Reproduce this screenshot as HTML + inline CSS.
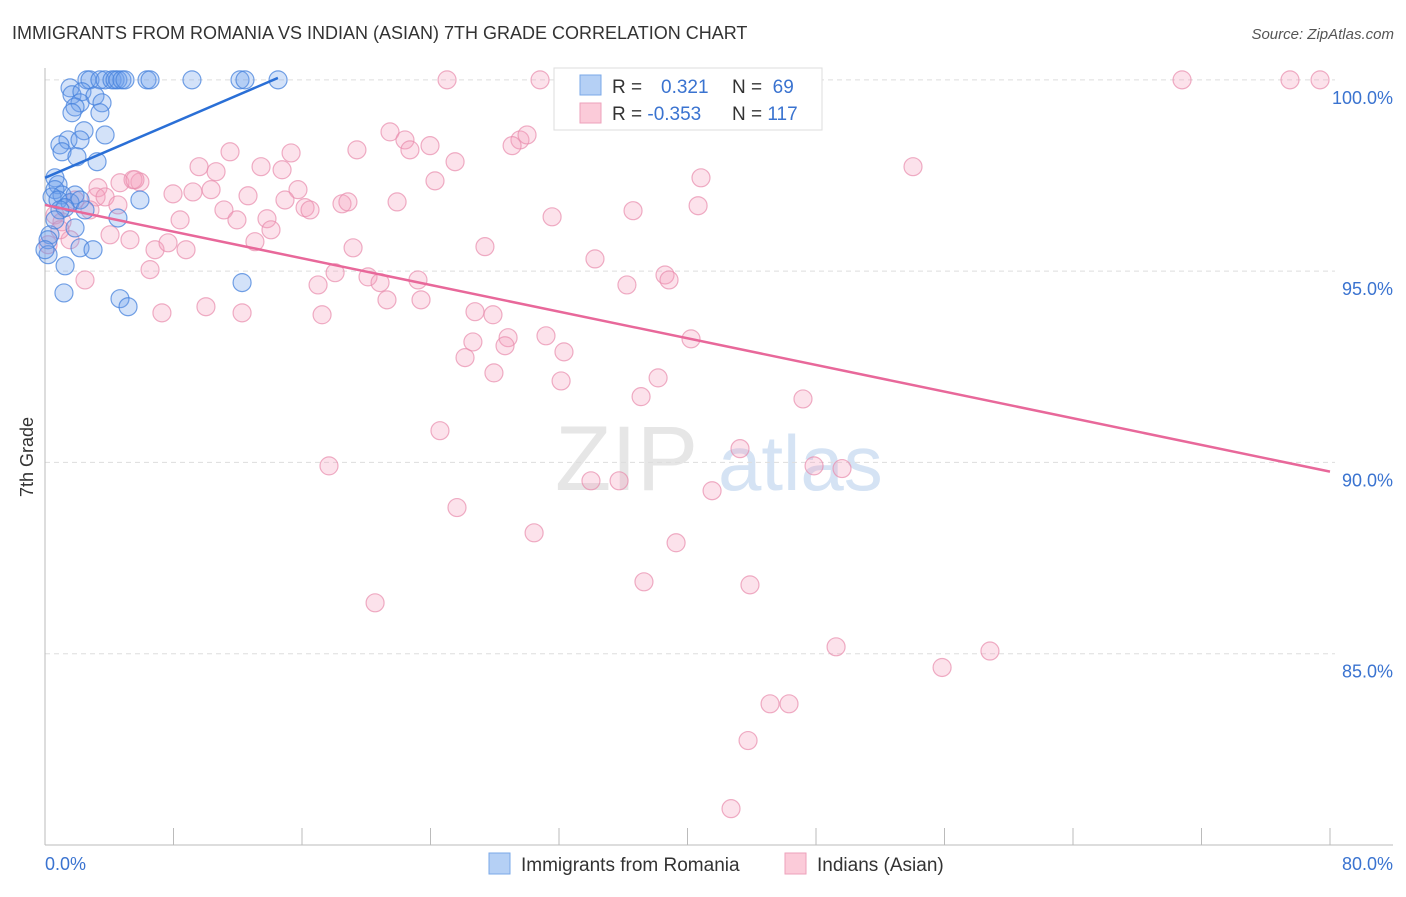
<!DOCTYPE html>
<html><head><meta charset="utf-8"><style>
body{margin:0;background:#fff;font-family:"Liberation Sans",sans-serif;}
svg text{font-family:"Liberation Sans",sans-serif;}
</style></head><body>
<svg id="chart" width="1406" height="892" viewBox="0 0 1406 892">
<text x="12" y="39" font-size="18" fill="#333">IMMIGRANTS FROM ROMANIA VS INDIAN (ASIAN) 7TH GRADE CORRELATION CHART</text>
<text x="1394" y="39" font-size="15" fill="#555" text-anchor="end" font-style="italic">Source: ZipAtlas.com</text>
<g>
<text x="555" y="490" font-size="92" fill="#e6e6e6" font-family="Liberation Serif">ZIP</text>
<text x="718" y="490" font-size="78" fill="#d5e3f4">atlas</text>
</g>
<g id="grid"></g>
<g id="axes"></g>
<g id="points"></g>
<g id="trends"></g>
<text x="33" y="457" font-size="18" fill="#333" text-anchor="middle" transform="rotate(-90 33 457)">7th Grade</text>
<g>
<rect x="554" y="68" width="268" height="62" fill="#fff" stroke="#ddd"/>
<rect x="580" y="75" width="21" height="20" fill="#b5d0f5" stroke="#7aa8e8"/>
<rect x="580" y="103" width="21" height="20" fill="#fbcbd9" stroke="#eea2bb"/>
<text x="612" y="93" font-size="19" fill="#333">R = <tspan fill="#3a73d0" x="661">0.321</tspan></text>
<text x="732" y="93" font-size="19" fill="#333">N = <tspan fill="#3a73d0">&#160;69</tspan></text>
<text x="612" y="120" font-size="19" fill="#333">R = <tspan fill="#3a73d0">-0.353</tspan></text>
<text x="732" y="120" font-size="19" fill="#333">N = <tspan fill="#3a73d0">117</tspan></text>
</g>
<g>
<rect x="489" y="853" width="21" height="21" fill="#b5d0f5" stroke="#7aa8e8"/>
<text x="521" y="871" font-size="19" fill="#333">Immigrants from Romania</text>
<rect x="785" y="853" width="21" height="21" fill="#fbcbd9" stroke="#eea2bb"/>
<text x="817" y="871" font-size="19" fill="#333">Indians (Asian)</text>
</g>
</svg>
<script>
const yTicks=[100,95,90,85];
const yTickLabels=["100.0%","95.0%","90.0%","85.0%"];
const xTicks=[0,8,16,24,32,40,48,56,64,72,80];
const xEndLabels=["0.0%","80.0%"];
const blueX=[2.61,2.80,3.42,3.74,4.17,4.36,4.54,4.79,4.98,6.35,6.54,9.15,12.14,12.45,14.51,1.56,1.68,2.30,3.11,2.18,1.87,3.55,3.42,1.68,2.43,3.74,1.43,2.18,0.93,1.06,1.99,3.24,0.62,0.81,0.62,1.06,1.87,0.44,0.81,1.56,2.18,1.25,5.91,4.54,1.87,0.31,0.19,2.18,2.99,0.19,1.25,1.18,4.67,5.17,12.27,0.93,2.49,0.62,0];
const blueY=[100,100,100,100,100,100,100,100,100,100,100,100,100,100,100,99.79,99.61,99.69,99.58,99.40,99.29,99.40,99.14,99.14,98.67,98.56,98.43,98.43,98.30,98.12,97.99,97.86,97.44,97.26,97.13,96.99,96.99,96.94,96.86,96.79,96.86,96.66,96.86,96.39,96.13,95.95,95.82,95.61,95.56,95.43,95.14,94.43,94.28,94.07,94.70,96.60,96.60,96.34,95.56];
const pinkX=[25.03,30.82,46.82,70.79,77.51,79.38,21.48,22.41,22.72,23.97,19.42,29.57,30.01,29.08,25.53,11.52,15.32,9.59,10.65,13.45,14.76,24.28,54.04,40.84,15.75,5.91,4.67,3.30,3.18,3.74,5.48,7.97,9.21,10.34,12.64,14.94,11.14,16.19,16.50,18.49,18.86,21.92,11.95,13.82,8.41,4.05,5.29,6.85,7.66,8.78,13.07,14.07,19.18,27.39,31.57,36.61,40.66,34.24,6.54,18.06,20.11,20.86,23.22,17.00,21.29,23.41,36.23,38.60,38.85,7.28,10.02,12.27,17.25,26.77,27.89,26.64,28.83,28.64,31.19,32.31,26.15,27.95,32.13,38.17,40.22,37.11,47.19,24.59,17.68,33.99,35.74,41.53,43.27,47.88,49.62,25.65,30.45,39.29,37.29,43.89,20.55,49.25,55.85,58.83,45.14,46.32,43.77,42.71,0.62,1.06,2.49,0.19,1.56,0.93,2.80,1.87,5.60,4.54];
const pinkY=[100,100,100,100,100,100,98.64,98.43,98.17,98.28,98.17,98.43,98.56,98.28,97.86,98.12,98.09,97.73,97.60,97.73,97.65,97.36,97.73,97.44,97.13,97.33,97.31,97.18,96.94,96.94,97.39,97.02,97.07,97.13,96.97,96.86,96.60,96.66,96.60,96.76,96.81,96.81,96.34,96.37,96.34,95.95,95.82,95.56,95.74,95.56,95.77,96.08,95.61,95.64,96.42,96.58,96.71,95.32,95.04,94.96,94.85,94.70,94.77,94.64,94.25,94.25,94.64,94.90,94.77,93.91,94.07,93.91,93.86,93.94,93.86,93.15,93.26,93.05,93.31,92.89,92.74,92.34,92.13,92.21,93.23,91.72,91.66,90.83,89.91,89.52,89.52,89.26,90.36,89.91,89.84,88.82,88.16,87.90,86.88,86.80,86.33,85.18,84.64,85.07,83.69,83.69,82.73,80.95,96.47,96.29,94.77,95.69,95.82,96.08,96.60,96.86,97.39,96.73];
const blueTrend=[[0,97.44],[14.5,100.05]];
const pinkTrend=[[0,96.73],[80,89.76]];
const X0=45,X1=1330,Y0=845,Y1=68,XMIN=0,XMAX=80,YMIN=80,YMAX=100.31;
const sx=v=>X0+(v-XMIN)/(XMAX-XMIN)*(X1-X0);
const sy=v=>Y0-(v-YMIN)/(YMAX-YMIN)*(Y0-Y1);
const NS="http://www.w3.org/2000/svg";
function mk(tag,parent,attrs){const e=document.createElementNS(NS,tag);for(const k in attrs)e.setAttribute(k,attrs[k]);parent.appendChild(e);return e;}
const grid=document.getElementById('grid'),axes=document.getElementById('axes'),pts=document.getElementById('points'),tr=document.getElementById('trends');
yTicks.forEach((t,i)=>{
  const l=mk('line',grid,{x1:X0,x2:X1+5,y1:sy(t),y2:sy(t),stroke:'#ddd','stroke-dasharray':'5,4'});
  
  
  const tx=mk('text',axes,{x:1393,y:sy(t)+24,'font-size':18,fill:'#3a73d0','text-anchor':'end'});
  tx.textContent=yTickLabels[i];
  
  
});
const ya=mk('line',axes,{x1:X0,x2:X0,y1:68,y2:Y0,stroke:'#bbb'});


const xa=mk('line',axes,{x1:X0,x2:1393,y1:Y0,y2:Y0,stroke:'#bbb'});


xTicks.forEach(t=>{
  const l=mk('line',axes,{x1:sx(t),x2:sx(t),y1:828,y2:Y0,stroke:'#bbb'});
  
  
});
const xl0=mk('text',axes,{x:45,y:870,'font-size':18,fill:'#3a73d0'});xl0.textContent=xEndLabels[0];


const xl1=mk('text',axes,{x:1393,y:870,'font-size':18,fill:'#3a73d0','text-anchor':'end'});xl1.textContent=xEndLabels[1];


pinkX.forEach((x,i)=>{
  const c=mk('circle',pts,{cx:sx(x),cy:sy(pinkY[i]),r:9,fill:'rgba(244,160,190,0.3)',stroke:'rgba(232,140,172,0.7)','stroke-width':1.2});
  
  
});
blueX.forEach((x,i)=>{
  const c=mk('circle',pts,{cx:sx(x),cy:sy(blueY[i]),r:9,fill:'rgba(110,160,235,0.3)',stroke:'rgba(70,130,220,0.75)','stroke-width':1.2});
  
  
});
const bt=mk('line',tr,{x1:sx(blueTrend[0][0]),y1:sy(blueTrend[0][1]),x2:sx(blueTrend[1][0]),y2:sy(blueTrend[1][1]),stroke:'#2a6fd6','stroke-width':2.5});


const pt=mk('line',tr,{x1:sx(pinkTrend[0][0]),y1:sy(pinkTrend[0][1]),x2:sx(pinkTrend[1][0]),y2:sy(pinkTrend[1][1]),stroke:'#e8689a','stroke-width':2.5});


</script>
</body></html>
